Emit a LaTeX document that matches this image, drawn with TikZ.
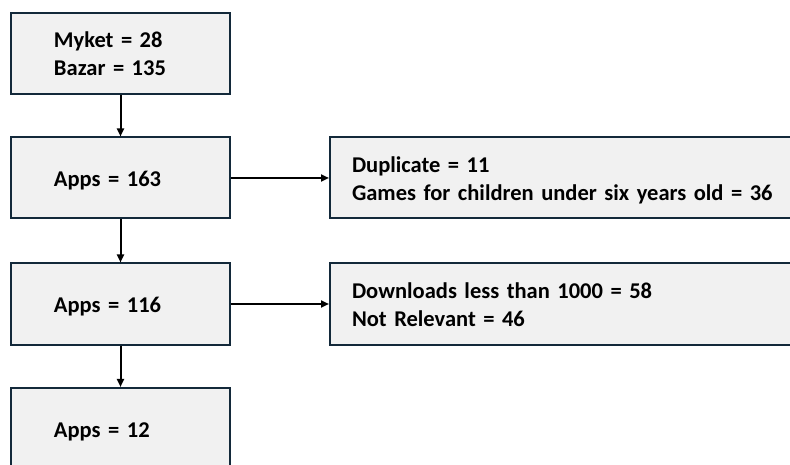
\documentclass[tikz,border=0pt]{standalone}
\usepackage{fontspec}
\setmainfont{Carlito}
\usetikzlibrary{arrows.meta}
\definecolor{boxfill}{HTML}{F1F1F1}
\definecolor{boxline}{HTML}{13293A}
\begin{document}
\begin{tikzpicture}[x=1bp,y=-1bp,
  box/.style={draw=boxline,fill=boxfill,line width=2bp,rectangle,
    minimum height=81bp,align=left,text height=22bp,text depth=5bp,
    font=\fontsize{22.6}{28}\selectfont\bfseries},
  leftbox/.style={box,inner xsep=43bp,text width=133bp},
  rightbox/.style={box,inner xsep=22bp,text width=426bp},
  twolines/.style={text depth=33bp},
  conn/.style={draw=black,line width=2bp,-{Triangle[length=8bp,width=7bp]}}]
\useasboundingbox (0,0) rectangle (790,465);
\clip (0,0) rectangle (790,465);
\node[leftbox,twolines] (b1) at (120.5,53.5) {Myket = 28\\Bazar = 135};
\node[leftbox] (b2) at (120.5,178) {Apps = 163};
\node[leftbox] (b3) at (120.5,304) {Apps = 116};
\node[leftbox] (b4) at (120.5,428.5) {Apps = 12};
\node[rightbox,twolines] (r1) at (565,178) {Duplicate = 11\\Games for children under six years old = 36};
\node[rightbox,twolines] (r2) at (565,304) {Downloads less than 1000 = 58\\Not Relevant = 46};
\draw[conn] (b1) -- (b2);
\draw[conn] (b2) -- (b3);
\draw[conn] (b3) -- (b4);
\draw[conn] (b2) -- (r1);
\draw[conn] (b3) -- (r2);
\end{tikzpicture}
\end{document}
